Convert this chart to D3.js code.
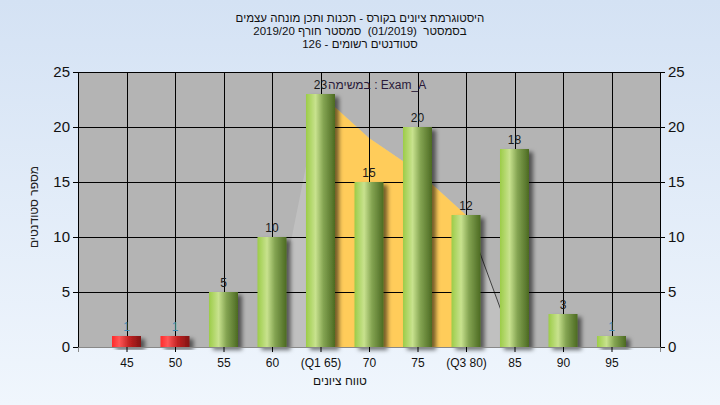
<!DOCTYPE html>
<html><head><meta charset="utf-8">
<script src="https://cdn.jsdelivr.net/npm/d3@7"></script>
<style>html,body{margin:0;padding:0;}svg{display:block;}</style>
</head><body>
<svg id="c" width="720" height="405"></svg>
<script>
const categories = ["45","50","55","60","(Q1 65)","70","75","(Q3 80)","85","90","95"];
const counts = [1,1,5,10,23,15,20,12,18,3,1];
const failing = [true,true,false,false,false,false,false,false,false,false,false];
const yTicks = [0,5,10,15,20,25];
const curveIdx = [4,5,6,7,8,9];      // category positions (1-based) of the distribution area
const curveVals = [1,23,19,16,12,0];
const quartileIdx = [5,8];           // Q1 .. Q3
const titleLines = ["היסטוגרמת ציונים בקורס - תכנות ותכן מונחה עצמים","בסמסטר  (01/2019)  סמסטר חורף 2019/20","סטודנטים רשומים - 126"];
const yTitle = "מספר סטודנטים";
const xTitle = "טווח ציונים";
const seriesLabel = "במשימה : Exam_A";

const svg = d3.select("#c");
const W=720,H=405;
const L=78,R=660,T=72,B=347;
const font = "'Liberation Sans', Arial, sans-serif";
const defs = svg.append("defs");
const bg = defs.append("linearGradient").attr("id","bg").attr("x1",0).attr("y1",0).attr("x2",0).attr("y2",1);
bg.append("stop").attr("offset",0).attr("stop-color","#d4e2f4");
bg.append("stop").attr("offset",1).attr("stop-color","#f0f6fd");
const gg = defs.append("linearGradient").attr("id","green").attr("x1",0).attr("y1",0).attr("x2",1).attr("y2",0);
[[0,"#9ccc48"],[0.33,"#c8e28e"],[0.6,"#84a452"],[1,"#4c6a22"]].forEach(s=>gg.append("stop").attr("offset",s[0]).attr("stop-color",s[1]));
const rg = defs.append("linearGradient").attr("id","red").attr("x1",0).attr("y1",0).attr("x2",1).attr("y2",0);
[[0,"#ff2a2a"],[0.25,"#ff5656"],[0.6,"#c02222"],[1,"#801414"]].forEach(s=>rg.append("stop").attr("offset",s[0]).attr("stop-color",s[1]));
const f = defs.append("filter").attr("id","sh").attr("x","-30%").attr("y","-10%").attr("width","170%").attr("height","130%");
f.append("feDropShadow").attr("dx",4).attr("dy",3).attr("stdDeviation",2).attr("flood-color","#000").attr("flood-opacity",0.55);

svg.append("rect").attr("width",W).attr("height",H).attr("fill","url(#bg)");

const x = d3.scaleLinear().domain([0,12]).range([L,R]);
const y = d3.scaleLinear().domain([0,25]).range([B,T]);

svg.append("rect").attr("x",L).attr("y",T).attr("width",R-L).attr("height",B-T).attr("fill","#b4b4b4");

// distribution area
const pts = curveIdx.map((c,i)=>({c,v:curveVals[i]}));
const area = d3.area().x(d=>x(d.c)).y0(y(0)).y1(d=>y(d.v));
svg.append("path").attr("d",area(pts)).attr("fill","#c0c0c0");
svg.append("path").attr("d",area(pts.filter(d=>d.c>=quartileIdx[0]&&d.c<=quartileIdx[1]))).attr("fill","#ffcc5a");
svg.append("path").attr("d",d3.line().x(d=>x(d.c)).y(d=>y(d.v))(pts.filter(d=>d.c>=quartileIdx[1]))).attr("fill","none").attr("stroke","#404040").attr("stroke-width",1);

// grid
svg.append("g").selectAll("line").data(yTicks.filter(v=>v>0)).join("line")
  .attr("x1",L).attr("x2",R).attr("y1",d=>y(d)+0.5).attr("y2",d=>y(d)+0.5).attr("stroke","#000");
svg.append("g").selectAll("line").data(categories.map((c,i)=>i+1)).join("line")
  .attr("x1",d=>Math.round(x(d))+0.5).attr("x2",d=>Math.round(x(d))+0.5).attr("y1",T).attr("y2",B).attr("stroke","#000");

// bars
const bw = 29;
svg.append("g").selectAll("rect").data(counts).join("rect")
  .attr("x",(d,i)=>x(i+1)-bw/2).attr("y",d=>y(d)).attr("width",bw).attr("height",d=>y(0)-y(d))
  .attr("fill",(d,i)=>failing[i]?"url(#red)":"url(#green)").attr("filter","url(#sh)");

// value labels
svg.append("g").selectAll("text").data(counts).join("text")
  .attr("x",(d,i)=>x(i+1)).attr("y",d=>y(d)-5).attr("text-anchor","middle")
  .attr("font-family",font).attr("font-size",12)
  .attr("fill",d=>d===1?"#3a8cb8":"#1a1a1a").text(d=>d);

// axes
const tickFont = sel=>sel.selectAll("text").attr("font-family",font).attr("fill","#111");
const ya = svg.append("g").attr("transform",`translate(${L},0)`).call(d3.axisLeft(y).tickValues(yTicks).tickSize(5).tickPadding(3));
ya.selectAll("text").attr("font-size",15); tickFont(ya);
const yb = svg.append("g").attr("transform",`translate(${R},0)`).call(d3.axisRight(y).tickValues(yTicks).tickSize(5).tickPadding(3));
yb.selectAll("text").attr("font-size",15); tickFont(yb);
const xa = svg.append("g").attr("transform",`translate(0,${B})`).call(d3.axisBottom(x).tickValues(categories.map((c,i)=>i+1)).tickFormat(d=>categories[d-1]).tickSize(5).tickPadding(6));
xa.select(".domain").attr("stroke","#888");
xa.selectAll("text").attr("font-size",12); tickFont(xa);
[ya,yb].forEach(a=>a.select(".domain").attr("stroke","#000"));

// texts
svg.append("g").selectAll("text").data(titleLines).join("text")
  .attr("x",360).attr("y",(d,i)=>22+i*13).attr("text-anchor","middle").attr("direction","rtl")
  .style("white-space","pre")
  .attr("font-family",font).attr("font-size",11.5).attr("fill","#111").text(d=>d);
svg.append("text").attr("transform","translate(38,207) rotate(-90)").attr("text-anchor","middle").attr("direction","rtl")
  .attr("font-family",font).attr("font-size",12).attr("fill","#222").text(yTitle);
svg.append("text").attr("x",340).attr("y",385).attr("text-anchor","middle").attr("direction","rtl")
  .attr("font-family",font).attr("font-size",12).attr("fill","#111").text(xTitle);
svg.append("text").attr("x",328).attr("y",89).attr("direction","ltr")
  .attr("font-family",font).attr("font-size",12).attr("fill","#2a1a3a").text(seriesLabel);
</script>
</body></html>
